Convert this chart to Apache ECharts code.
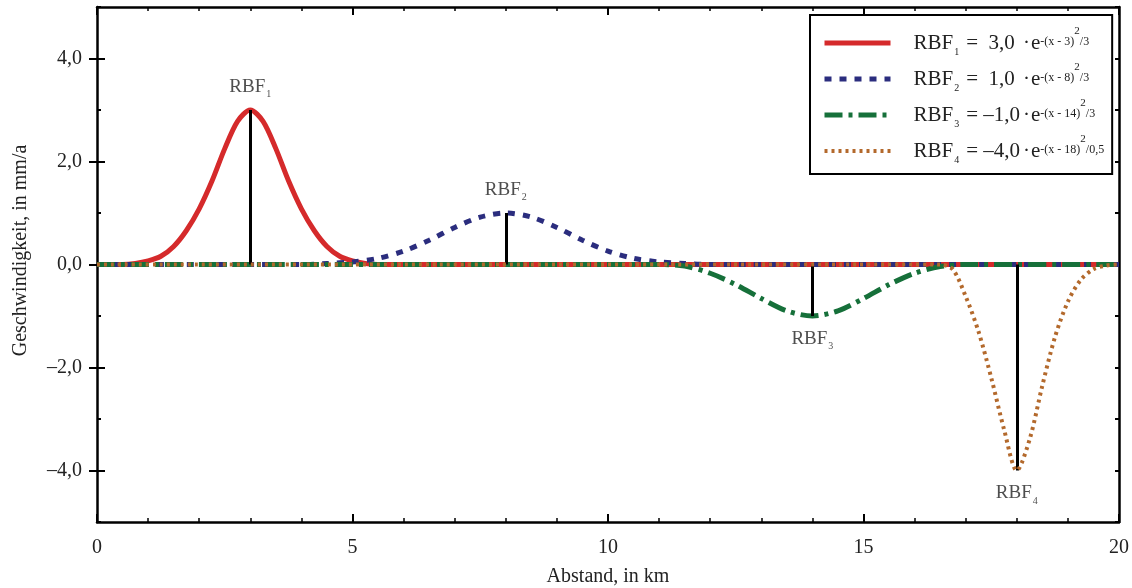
<!DOCTYPE html>
<html>
<head>
<meta charset="utf-8">
<script src="https://cdn.jsdelivr.net/npm/echarts@6/dist/echarts.min.js"></script>
<style>html,body{margin:0;padding:0;background:#fff}#c{width:1132px;height:588px}</style>
</head>
<body>
<div id="c"></div>
<script>
// ---- data ----
const seriesNames = ['RBF1', 'RBF2', 'RBF3', 'RBF4'];
const rbf1X = [0, 0.5, 0.75, 1.0, 1.25, 1.5, 1.75, 2.0, 2.25, 2.5, 2.75, 3.0, 3.25, 3.5, 3.75, 4.0, 4.25, 4.5, 4.75, 5.0, 5.25, 5.5, 20];
const rbf1Y = [0, 0, 0.02, 0.07, 0.16, 0.35, 0.66, 1.08, 1.62, 2.25, 2.78, 3.0, 2.78, 2.25, 1.62, 1.08, 0.66, 0.35, 0.16, 0.07, 0.02, 0, 0];
const rbf2X = [0, 4.0, 4.5, 5.0, 5.5, 6.0, 6.5, 7.0, 7.5, 8.0, 8.5, 9.0, 9.5, 10.0, 10.5, 11.0, 11.5, 12.0, 20];
const rbf2Y = [0, 0, 0.02, 0.05, 0.12, 0.26, 0.47, 0.72, 0.92, 1.0, 0.92, 0.72, 0.47, 0.26, 0.12, 0.05, 0.02, 0, 0];
const rbf3X = [0, 11.0, 11.5, 12.0, 12.5, 13.0, 13.5, 14.0, 14.5, 15.0, 15.5, 16.0, 16.5, 17.0, 20];
const rbf3Y = [0, 0, -0.03, -0.17, -0.39, -0.66, -0.9, -1.0, -0.9, -0.66, -0.39, -0.17, -0.04, 0, 0];
const rbf4X = [0, 16.5, 16.75, 17.0, 17.25, 17.5, 17.75, 18.0, 18.25, 18.5, 18.75, 19.0, 19.25, 19.5, 19.75, 20];
const rbf4Y = [0, 0, -0.1, -0.62, -1.3, -2.2, -3.2, -4.0, -3.4, -2.35, -1.4, -0.72, -0.3, -0.09, -0.02, 0];

// peak markers (stems + labels)
const stemX = [3, 8, 14, 18];
const stemY = [3, 1, -1, -4];

// legend formula parts
const coefLabels = ['3,0', '1,0', '\u20131,0', '\u20134,0'];
const centerLabels = ['3', '8', '14', '18'];
const divisorLabels = ['3', '3', '3', '0,5'];

// tick labels
const xTicks = [0, 5, 10, 15, 20];
const xTickLabels = ['0', '5', '10', '15', '20'];
const yTicks = [-4, -2, 0, 2, 4];
const yTickLabels = ['\u20134,0', '\u20132,0', '0,0', '2,0', '4,0'];

const xTitle = 'Abstand, in km';
const yTitle = 'Geschwindigkeit, in mm/a';

// ---- chart ----
const FONT = '"Liberation Serif", "DejaVu Serif", serif';
const TXT = '#222';
const pairs = (xs, ys) => xs.map((x, i) => [x, ys[i]]);
const styles = [
  { color: '#d52a2b', width: 5, type: 'solid' },
  { color: '#2b2d7e', width: 5, type: [7, 8] },
  { color: '#16703a', width: 5, type: [18, 6, 4, 6] },
  { color: '#b3692c', width: 4, type: [3, 4] }
];
const datasets = [pairs(rbf1X, rbf1Y), pairs(rbf2X, rbf2Y), pairs(rbf3X, rbf3Y), pairs(rbf4X, rbf4Y)];

const curveSeries = seriesNames.map((n, i) => ({
  name: n,
  type: 'line',
  data: datasets[i],
  symbol: 'none',
  smooth: 0.3,
  color: styles[i].color,
  lineStyle: { color: styles[i].color, width: styles[i].width, type: styles[i].type, cap: 'butt' },
  z: 2 + i,
  animation: false
}));

const axisLineStyle = { color: '#000', width: 2.5 };
const tickStyle = { color: '#000', width: 2 };
const labelStyle = { fontSize: 20, color: TXT, fontFamily: FONT };

const option = {
  backgroundColor: '#fff',
  animation: false,
  grid: { left: 97, right: 13, top: 7, bottom: 66, containLabel: false, outerBoundsMode: 'none' },
  legend: {
    data: seriesNames.map((n, i) => ({
      name: n,
      itemStyle: { opacity: 0 },
      lineStyle: { width: styles[i].width, color: styles[i].color, type: styles[i].type, cap: 'butt' }
    })),
    orient: 'vertical',
    left: 810,
    top: 15,
    padding: [11, 8, 9, 12],
    itemGap: 5,
    itemWidth: 66,
    itemHeight: 14,
    backgroundColor: '#fff',
    borderColor: '#000',
    borderWidth: 2,
    borderRadius: 0,
    z: 10,
    selectedMode: false,
    formatter: function (name) {
      const i = seriesNames.indexOf(name);
      return '{r|RBF}{s|' + (i + 1) + '}{q|=}{c|' + coefLabels[i] + '}{d|\u00b7}{g|e}{e|-(x - ' + centerLabels[i] + ')}{t|2}{e|/' + divisorLabels[i] + '}';
    },
    textStyle: {
      fontFamily: FONT,
      color: TXT,
      padding: [0, 0, 0, 18],
      rich: {
        r: { fontSize: 21, fontFamily: FONT, lineHeight: 34, verticalAlign: 'middle', color: TXT },
        s: { fontSize: 10, fontFamily: FONT, verticalAlign: 'top', padding: [21, 0, 0, 1], color: TXT },
        q: { fontSize: 21, fontFamily: FONT, lineHeight: 34, verticalAlign: 'middle', padding: [0, 3, 0, 7], color: TXT },
        c: { fontSize: 21, fontFamily: FONT, lineHeight: 34, verticalAlign: 'middle', width: 41, align: 'right', color: TXT },
        d: { fontSize: 21, fontFamily: FONT, lineHeight: 34, verticalAlign: 'middle', padding: [0, 0, 0, 1], color: TXT },
        g: { fontSize: 21, fontFamily: FONT, lineHeight: 34, verticalAlign: 'middle', padding: [0, 0, 0, 1], color: TXT },
        e: { fontSize: 12, fontFamily: FONT, verticalAlign: 'top', padding: [10, 0, 0, 0], color: TXT },
        t: { fontSize: 11, fontFamily: FONT, verticalAlign: 'top', padding: [0, 0, 0, 0], color: TXT }
      }
    }
  },
  xAxis: [
    {
      type: 'value', min: 0, max: 20, interval: 5, position: 'bottom',
      axisLine: { show: true, onZero: false, lineStyle: axisLineStyle },
      axisTick: { show: true, inside: true, length: 8, lineStyle: tickStyle },
      minorTick: { show: true, splitNumber: 5, length: 4, lineStyle: { color: '#000', width: 1.5 } },
      splitLine: { show: false },
      axisLabel: Object.assign({ margin: 16, formatter: v => xTickLabels[xTicks.indexOf(v)] }, labelStyle),
      name: xTitle, nameLocation: 'middle', nameGap: 45,
      nameTextStyle: { fontSize: 20, color: TXT, fontFamily: FONT }
    },
    {
      type: 'value', min: 0, max: 20, interval: 5, position: 'top',
      axisLine: { show: true, onZero: false, lineStyle: axisLineStyle },
      axisTick: { show: true, inside: true, length: 8, lineStyle: tickStyle },
      minorTick: { show: true, splitNumber: 5, length: 4, lineStyle: { color: '#000', width: 1.5 } },
      splitLine: { show: false },
      axisLabel: { show: false }
    }
  ],
  yAxis: [
    {
      type: 'value', min: -5, max: 5, interval: 1, position: 'left',
      axisLine: { show: true, onZero: false, lineStyle: axisLineStyle },
      axisTick: { show: true, inside: true, length: 4, lineStyle: tickStyle },
      splitLine: { show: false },
      axisLabel: Object.assign({ margin: 15, customValues: yTicks, formatter: v => yTickLabels[yTicks.indexOf(v)] }, labelStyle),
      name: yTitle, nameLocation: 'middle', nameGap: 66, nameRotate: 90,
      nameTextStyle: { fontSize: 20, color: TXT, fontFamily: FONT, padding: [0, 0, 0, 28] }
    },
    {
      type: 'value', min: -5, max: 5, interval: 1, position: 'right',
      axisLine: { show: true, onZero: false, lineStyle: axisLineStyle },
      axisTick: { show: true, inside: true, length: 4, lineStyle: tickStyle },
      splitLine: { show: false },
      axisLabel: { show: false }
    },
    {
      type: 'value', min: -5, max: 5, interval: 1, position: 'left',
      axisLine: { show: false },
      axisTick: { show: true, inside: true, length: 8, customValues: yTicks, lineStyle: tickStyle },
      splitLine: { show: false },
      axisLabel: { show: false }
    },
    {
      type: 'value', min: -5, max: 5, interval: 1, position: 'right',
      axisLine: { show: false },
      axisTick: { show: true, inside: true, length: 8, customValues: yTicks, lineStyle: tickStyle },
      splitLine: { show: false },
      axisLabel: { show: false }
    }
  ],
  series: curveSeries.concat([
    {
      name: 'peaks',
      type: 'scatter',
      symbolSize: 1,
      itemStyle: { color: 'rgba(0,0,0,0)' },
      z: 8,
      data: stemX.map((x, i) => ({
        value: [x, stemY[i]],
        label: { position: stemY[i] > 0 ? 'top' : 'bottom' }
      })),
      label: {
        show: true,
        distance: 10,
        formatter: p => '{a|RBF}{b|' + (p.dataIndex + 1) + '}',
        rich: {
          a: { fontSize: 19, fontFamily: FONT, color: TXT, lineHeight: 24, verticalAlign: 'middle' },
          b: { fontSize: 10, fontFamily: FONT, color: TXT, verticalAlign: 'top', padding: [15, 0, 0, 1] }
        }
      },
      markLine: {
        silent: true,
        symbol: ['none', 'none'],
        label: { show: false },
        lineStyle: { color: '#000', width: 3, type: 'solid' },
        data: stemX.map((x, i) => [{ coord: [x, 0] }, { coord: [x, stemY[i]] }])
      }
    }
  ])
};

const chart = echarts.init(document.getElementById('c'), null, { renderer: 'canvas' });
chart.setOption(option);
</script>
</body>
</html>
